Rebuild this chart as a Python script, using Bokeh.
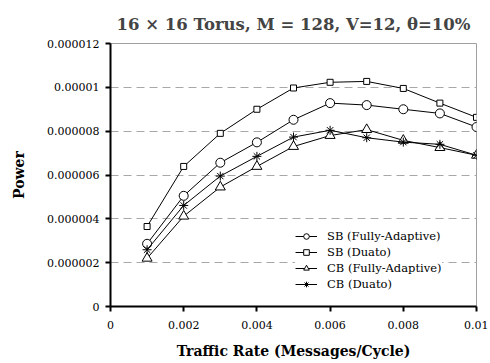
from bokeh.plotting import figure
from bokeh.models import FixedTicker, Range1d, Legend, LegendItem
from bokeh.embed import file_html
from bokeh.resources import INLINE

rates = [0.001, 0.002, 0.003, 0.004, 0.005, 0.006, 0.007, 0.008, 0.009, 0.010]
sb_fa = [2.86e-6, 5.05e-6, 6.56e-6, 7.49e-6, 8.52e-6, 9.28e-6, 9.19e-6, 9.00e-6, 8.81e-6, 8.19e-6]
sb_duato = [3.65e-6, 6.39e-6, 7.90e-6, 9.00e-6, 9.97e-6, 1.023e-5, 1.027e-5, 9.95e-6, 9.28e-6, 8.63e-6]
cb_fa = [2.20e-6, 4.12e-6, 5.45e-6, 6.39e-6, 7.30e-6, 7.80e-6, 8.07e-6, 7.58e-6, 7.25e-6, 6.90e-6]
cb_duato = [2.59e-6, 4.61e-6, 5.95e-6, 6.85e-6, 7.73e-6, 8.04e-6, 7.70e-6, 7.50e-6, 7.40e-6, 6.90e-6]

x_ticks = [0, 0.002, 0.004, 0.006, 0.008, 0.01]
x_tick_labels = ["0", "0.002", "0.004", "0.006", "0.008", "0.01"]
y_ticks = [0, 2e-6, 4e-6, 6e-6, 8e-6, 1e-5, 1.2e-5]
y_tick_labels = ["0", "0.000002", "0.000004", "0.000006", "0.000008", "0.00001", "0.000012"]

FONT = "DejaVu Serif"

p = figure(width=488, height=361, output_backend="svg", toolbar_location=None,
           x_range=Range1d(0, 0.01), y_range=Range1d(0, 1.2e-5),
           min_border_left=110, min_border_right=12, min_border_top=43, min_border_bottom=55)

p.title.text = "16 \u00d7 16 Torus, M = 128, V=12, \u03b8=10%"
p.title.text_font = FONT
p.title.text_font_size = "16.5px"
p.title.text_font_style = "bold"
p.title.align = "center"
p.title.offset = 0
p.title.standoff = 20

p.outline_line_color = "#a0a0a0"
p.outline_line_width = 1

for ax, ticks, labels in ((p.xaxis, x_ticks, x_tick_labels), (p.yaxis, y_ticks, y_tick_labels)):
    ax.ticker = FixedTicker(ticks=ticks)
    ax.major_label_overrides = {t: l for t, l in zip(ticks, labels)}
    ax.axis_line_color = "black"
    ax.axis_line_width = 2
    ax.major_tick_line_color = "black"
    ax.major_tick_line_width = 2
    ax.major_tick_out = 5
    ax.major_tick_in = 0
    ax.minor_tick_line_color = None
    ax.major_label_text_font = FONT
    ax.major_label_text_font_size = "11px"
    ax.major_label_text_color = "black"
    ax.axis_label_text_font = FONT
    ax.axis_label_text_font_size = "14px"
    ax.axis_label_text_font_style = "bold"
    ax.axis_label_text_color = "black"

p.xaxis.axis_label = "Traffic Rate (Messages/Cycle)"
p.yaxis.axis_label = "Power"
p.xaxis.major_label_standoff = 9
p.xaxis.axis_label_standoff = 11
p.yaxis.major_label_standoff = 6
p.yaxis.axis_label_standoff = 17

p.xgrid.grid_line_color = None
p.ygrid.grid_line_color = "#a8a8a8"
p.ygrid.grid_line_dash = "8 5"
p.ygrid.grid_line_width = 1

items = []
l1 = p.line(rates, sb_fa, line_color="black", line_width=1)
m1 = p.scatter(rates, sb_fa, marker="circle", size=9, fill_color="white", line_color="black")
items.append(LegendItem(label="SB (Fully-Adaptive)", renderers=[l1, m1]))
l2 = p.line(rates, sb_duato, line_color="black", line_width=1)
m2 = p.scatter(rates, sb_duato, marker="square", size=6, fill_color="white", line_color="black")
items.append(LegendItem(label="SB (Duato)", renderers=[l2, m2]))
l3 = p.line(rates, cb_fa, line_color="black", line_width=1)
m3 = p.scatter(rates, cb_fa, marker="triangle", size=10, fill_color="white", line_color="black")
items.append(LegendItem(label="CB (Fully-Adaptive)", renderers=[l3, m3]))
l4 = p.line(rates, cb_duato, line_color="black", line_width=1)
m4 = p.scatter(rates, cb_duato, marker="asterisk", size=9, fill_color="white", line_color="black")
items.append(LegendItem(label="CB (Duato)", renderers=[l4, m4]))

legend = Legend(items=items, location=(185, 15))
legend.border_line_color = None
legend.background_fill_color = "white"
legend.background_fill_alpha = 1
legend.label_text_font = FONT
legend.label_text_font_size = "11.5px"
legend.label_text_color = "black"
legend.glyph_width = 22
legend.glyph_height = 14
legend.spacing = 2
legend.label_standoff = 10
legend.padding = 2
legend.margin = 0
p.add_layout(legend)

open("out.html", "w").write(file_html(p, INLINE))
